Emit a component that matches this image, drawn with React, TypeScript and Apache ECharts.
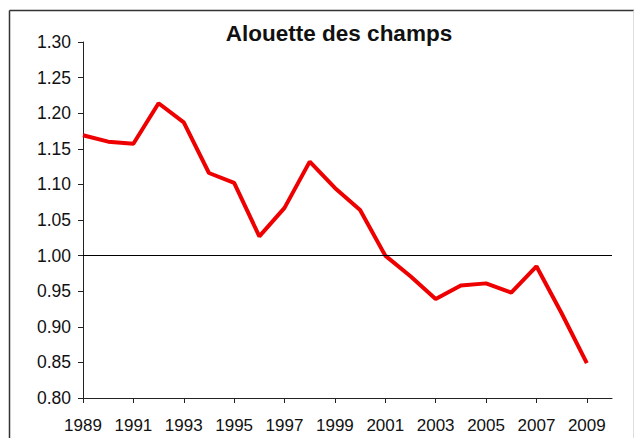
import React, { useEffect, useRef } from "react";
import * as echarts from "echarts";

const titleText = "Alouette des champs";
const years = [
  "1989", "1990", "1991", "1992", "1993", "1994", "1995", "1996", "1997", "1998", "1999",
  "2000", "2001", "2002", "2003", "2004", "2005", "2006", "2007", "2008", "2009", "2010",
];
const values = [
  1.169, 1.16, 1.157, 1.214, 1.187, 1.116, 1.102, 1.027, 1.067, 1.132, 1.095,
  1.064, 1.0, 0.971, 0.939, 0.958, 0.961, 0.948, 0.985, 0.919, 0.849,
];
const yMin = 0.8;
const yMax = 1.3;
const yStep = 0.05;
const referenceValue = 1.0;

export default function App() {
  const ref = useRef<HTMLDivElement>(null);
  useEffect(() => {
    if (!ref.current) return;
    const chart = echarts.init(ref.current, null, { renderer: "svg" });
    const font = "'Liberation Sans', Arial, sans-serif";
    chart.setOption({
      animation: false,
      backgroundColor: "#ffffff",
      title: {
        text: titleText,
        left: 334,
        top: 17,
        textAlign: "center",
        textStyle: { fontFamily: font, fontSize: 22.5, fontWeight: "bold", color: "#111" },
      },
      graphic: [
        { type: "line", shape: { x1: 9.5, y1: 10.5, x2: 634, y2: 10.5 }, style: { stroke: "#333", lineWidth: 1.5 } },
        { type: "line", shape: { x1: 9.5, y1: 10.5, x2: 9.5, y2: 438 }, style: { stroke: "#333", lineWidth: 1.5 } },
        { type: "line", shape: { x1: 633.5, y1: 10.5, x2: 633.5, y2: 438 }, style: { stroke: "#ddd", lineWidth: 1 } },
      ],
      grid: { left: 83, top: 42, right: 25, bottom: 40, containLabel: false },
      xAxis: {
        type: "category",
        data: years,
        boundaryGap: false,
        axisLine: { lineStyle: { color: "#222", width: 1 } },
        axisTick: {
          show: true,
          length: 5,
          interval: (i: number) => i % 2 === 0,
          lineStyle: { color: "#222" },
        },
        axisLabel: {
          interval: (i: number) => i % 2 === 0,
          margin: 19,
          fontFamily: font,
          fontSize: 17,
          color: "#111",
        },
        splitLine: { show: false },
      },
      yAxis: {
        type: "value",
        min: yMin,
        max: yMax,
        interval: yStep,
        axisLine: { show: true, lineStyle: { color: "#222", width: 1 } },
        axisTick: { show: true, length: 5, lineStyle: { color: "#222" } },
        axisLabel: {
          margin: 12,
          fontFamily: font,
          fontSize: 17.5,
          color: "#111",
          formatter: (v: number) => v.toFixed(2),
        },
        splitLine: { show: false },
      },
      series: [
        {
          type: "line",
          data: values,
          symbol: "none",
          lineStyle: { color: "#ee0000", width: 4 },
          itemStyle: { color: "#ee0000" },
          markLine: {
            silent: true,
            symbol: "none",
            label: { show: false },
            lineStyle: { color: "#000", width: 1, type: "solid" },
            data: [{ yAxis: referenceValue }],
          },
          z: 3,
        },
      ],
    });
    return () => chart.dispose();
  }, []);
  return (
    <div
      ref={ref}
      style={{ position: "fixed", left: 0, top: 0, width: 637, height: 438 }}
    />
  );
}
